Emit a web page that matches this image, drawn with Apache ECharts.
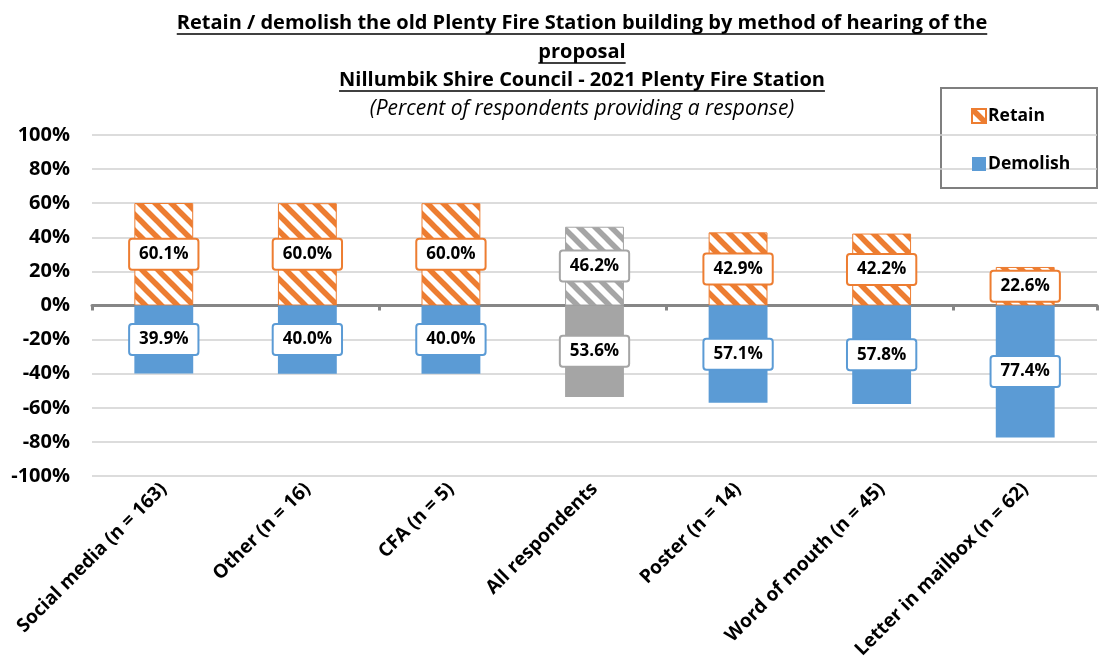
<!DOCTYPE html>
<html>
<head>
<meta charset="utf-8">
<script src="https://cdn.jsdelivr.net/npm/echarts@6/dist/echarts.min.js"></script>
<style>
  html, body { margin: 0; padding: 0; background: #fff; }
  #chart { width: 1099px; height: 662px; }
</style>
</head>
<body>
<div id="chart"></div>
<script>
// categories and values (percent of respondents)
var categories = [
  "Social media (n = 163)",
  "Other (n = 16)",
  "CFA (n = 5)",
  "All respondents",
  "Poster (n = 14)",
  "Word of mouth (n = 45)",
  "Letter in mailbox (n = 62)"
];
var retain = [60.1, 60.0, 60.0, 46.2, 42.9, 42.2, 22.6];
var demolish = [39.9, 40.0, 40.0, 53.6, 57.1, 57.8, 77.4];
var totalIndex = 3; // "All respondents" drawn in grey
var yTicks = [-100, -80, -60, -40, -20, 0, 20, 40, 60, 80, 100];

var titleLines = [
  "Retain / demolish the old Plenty Fire Station building by method of hearing of the",
  "proposal",
  "Nillumbik Shire Council - 2021 Plenty Fire Station"
];
var subTitle = "(Percent of respondents providing a response)";

var ORANGE = "#ed7d31";
var BLUE = "#5b9bd5";
var GREY = "#a5a5a5";
var FONT = "Open Sans";

// diagonal hatch tile
function hatch(col) {
  var s = 16;
  var c = document.createElement("canvas");
  c.width = s; c.height = s;
  var ctx = c.getContext("2d");
  ctx.fillStyle = "#fff";
  ctx.fillRect(0, 0, s, s);
  ctx.strokeStyle = col;
  ctx.lineWidth = 5.5;
  for (var k = -1; k <= 1; k++) {
    ctx.beginPath();
    ctx.moveTo(-2, k * s - 2);
    ctx.lineTo(s + 2, k * s + s + 2);
    ctx.stroke();
  }
  return { image: c, repeat: "repeat" };
}

function textWidth(txt, font) {
  var c = document.createElement("canvas").getContext("2d");
  c.font = font;
  return c.measureText(txt).width;
}

var chart = echarts.init(document.getElementById("chart"));

var retainData = retain.map(function (v, i) {
  var col = i === totalIndex ? GREY : ORANGE;
  return {
    value: v,
    itemStyle: { color: hatch(col), borderColor: col, borderWidth: 1 },
    label: { borderColor: col }
  };
});
var demolishData = demolish.map(function (v, i) {
  var col = i === totalIndex ? GREY : BLUE;
  return {
    value: -v,
    itemStyle: { color: col },
    label: { borderColor: col }
  };
});

var labelStyle = {
  show: true,
  position: "inside",
  formatter: function (p) { return Math.abs(p.value).toFixed(1) + "%"; },
  backgroundColor: "#fff",
  borderWidth: 2,
  borderRadius: 2,
  padding: [7, 9, 5, 9],
  color: "#000",
  fontFamily: FONT,
  fontWeight: "bold",
  fontSize: 17
};

// title graphics with underlines
var cx = 582;
var titleFont = "bold 20px " + FONT;
var titleY = [23, 52, 80];
var graphics = [];
titleLines.forEach(function (t, i) {
  var w = textWidth(t, titleFont);
  graphics.push({
    type: "text",
    style: { text: t, x: cx, y: titleY[i], align: "center", verticalAlign: "middle", font: titleFont, fill: "#000" }
  });
  graphics.push({
    type: "line",
    shape: { x1: cx - w / 2, y1: titleY[i] + 11, x2: cx + w / 2, y2: titleY[i] + 11 },
    style: { stroke: "#000", lineWidth: 1.5 }
  });
});
var subFont = "italic 21px " + FONT;
graphics.push({
  type: "text",
  style: { text: subTitle, x: cx, y: 109, align: "center", verticalAlign: "middle", font: subFont, fill: "#000" }
});
// legend frame
graphics.push({
  type: "rect",
  shape: { x: 941, y: 88, width: 156, height: 100 },
  style: { fill: "#fff", stroke: "#7f7f7f", lineWidth: 2 },
  z: -1
});

chart.setOption({
  animation: false,
  textStyle: { fontFamily: FONT },
  graphic: graphics,
  legend: {
    data: ["Retain", "Demolish"],
    orient: "vertical",
    left: 966,
    top: 102,
    itemGap: 30,
    itemWidth: 14,
    itemHeight: 14,
    icon: "rect",
    textStyle: { fontFamily: FONT, fontWeight: "bold", fontSize: 17.5, color: "#000", padding: [0, 0, 0, -3] },
    z: 10
  },
  grid: { left: 92, right: 2, top: 135, bottom: 186, containLabel: false },
  xAxis: [
    {
      type: "category",
      data: categories,
      position: "bottom",
      axisLine: { show: false, onZero: false },
      axisTick: { show: false },
      axisLabel: {
        rotate: 45,
        margin: 10,
        interval: 0,
        color: "#000",
        fontFamily: FONT,
        fontWeight: "bold",
        fontSize: 19
      }
    },
    {
      type: "category",
      data: categories,
      position: "bottom",
      axisLine: { show: true, onZero: true, lineStyle: { color: "#868686", width: 3 } },
      axisTick: { show: true, length: 5, lineStyle: { color: "#868686", width: 3 } },
      axisLabel: { show: false }
    }
  ],
  yAxis: {
    type: "value",
    min: yTicks[0],
    max: yTicks[yTicks.length - 1],
    interval: 20,
    axisLine: { show: false },
    axisTick: { show: false },
    axisLabel: {
      margin: 22,
      color: "#000",
      fontFamily: FONT,
      fontWeight: "bold",
      fontSize: 20,
      formatter: "{value}%"
    },
    splitLine: { lineStyle: { color: "#d0d0d0", width: 1.5 } }
  },
  series: [
    {
      name: "Retain",
      type: "bar",
      stack: "total",
      barWidth: "41%",
      itemStyle: { color: hatch(ORANGE), borderColor: ORANGE, borderWidth: 1 },
      label: labelStyle,
      data: retainData,
      z: 3
    },
    {
      name: "Demolish",
      type: "bar",
      stack: "total",
      barWidth: "41%",
      itemStyle: { color: BLUE },
      label: labelStyle,
      data: demolishData,
      z: 3
    }
  ]
});
</script>
</body>
</html>
